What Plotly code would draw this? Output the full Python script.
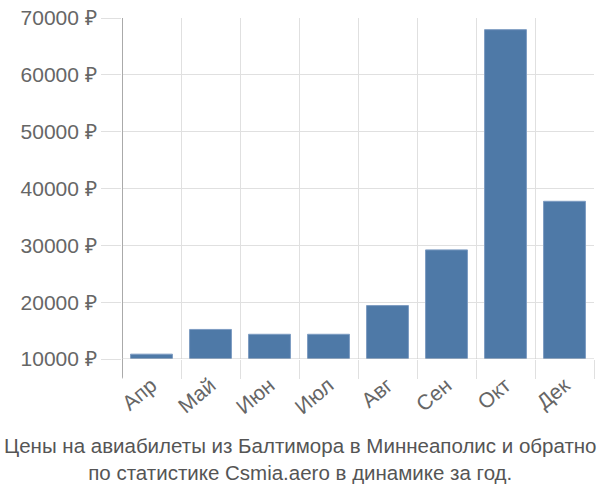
import plotly.graph_objects as go

months = ["Апр", "Май", "Июн", "Июл", "Авг", "Сен", "Окт", "Дек"]
prices = [10850, 15200, 14350, 14350, 19400, 29200, 67950, 37750]
y_ticks = [10000, 20000, 30000, 40000, 50000, 60000, 70000]
y_tick_text = [f"{v} ₽" for v in y_ticks]
title_lines = ["Цены на авиабилеты из Балтимора в Миннеаполис и обратно",
               "по статистике Csmia.aero в динамике за год."]

xpos = list(range(len(months)))
bounds = [i - 0.5 for i in range(len(months) + 1)]

fig = go.Figure(go.Bar(
    x=xpos, y=prices, width=0.71,
    marker=dict(color="#4e79a7", line=dict(color="#7d9cc2", width=1)),
))

fig.update_layout(
    width=600, height=500,
    margin=dict(l=122, r=6, t=15, b=141),
    paper_bgcolor="white", plot_bgcolor="white",
    showlegend=False,
    font=dict(family="Liberation Sans, Arial, sans-serif", color="#666666"),
    xaxis=dict(
        range=[-0.5, len(months) - 0.5],
        tickvals=xpos, ticktext=months, tickangle=-40,
        tickfont=dict(size=21, color="#666666"),
        showgrid=False, ticks="outside", ticklen=5, tickcolor="rgba(0,0,0,0)",
        zeroline=False, showline=False,
        minor=dict(tickvals=bounds, showgrid=True, gridcolor="#e0e0e0", gridwidth=1,
                   ticks="outside", ticklen=19, tickcolor="#e0e0e0"),
    ),
    yaxis=dict(
        range=[10000, 70000],
        tickvals=y_ticks, ticktext=y_tick_text,
        tickfont=dict(size=21, color="#666666"),
        showgrid=True, gridcolor="#e0e0e0", gridwidth=1,
        ticks="outside", ticklen=20, tickcolor="#e0e0e0",
        zeroline=False, showline=False,
    ),
    shapes=[
        dict(type="line", xref="x", yref="paper", x0=-0.5, x1=-0.5, y0=-0.055, y1=1,
             line=dict(color="#aaaaaa", width=2)),
        dict(type="line", xref="paper", yref="y", x0=0, x1=1, y0=10000, y1=10000,
             line=dict(color="#cccccc", width=1)),
    ],
    annotations=[
        dict(text=title_lines[0] + "<br>" + title_lines[1], xref="paper", yref="paper",
             x=0.5, xanchor="center", y=-0.215, yanchor="top", showarrow=False,
             xshift=-58,
             font=dict(family="Liberation Sans, sans-serif",
                       size=20.5, color="#555555")),
    ],
)

fig.write_html("out.html")
